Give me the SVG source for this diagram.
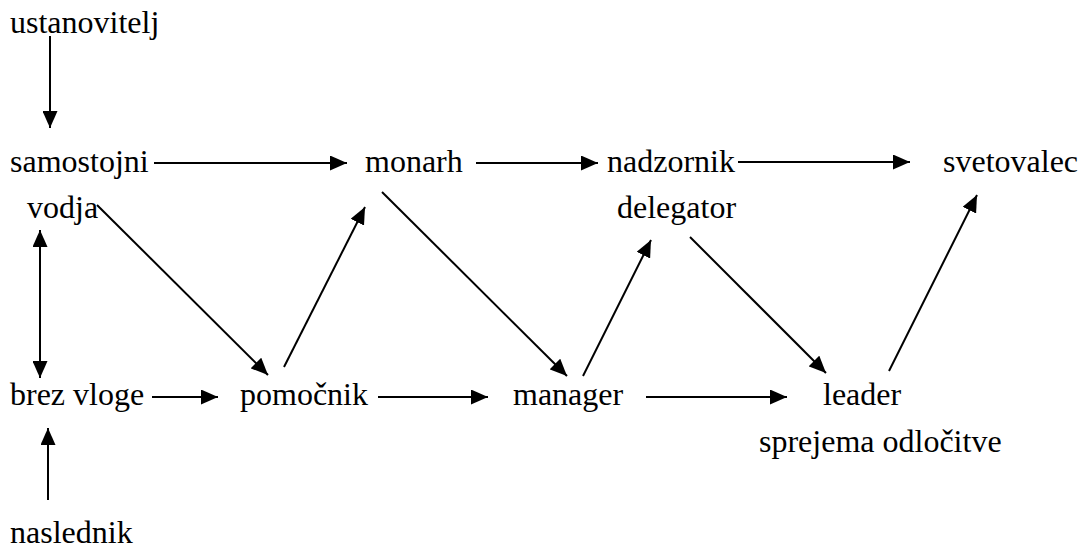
<svg xmlns="http://www.w3.org/2000/svg" width="1086" height="551" viewBox="0 0 1086 551">
<style>
text{font-family:'Liberation Serif',Tinos,'Times New Roman',serif;font-size:32px;fill:#000}
.c line{stroke:#000;stroke-width:2;fill:none;marker-end:url(#ah)}
</style>
<defs>
<marker id="ah" markerUnits="userSpaceOnUse" markerWidth="17" markerHeight="15" refX="17" refY="7.5" orient="auto-start-reverse"><path d="M0,0 L17,7.5 L0,15 z" fill="#000"/></marker>
</defs>
<rect width="1086" height="551" fill="#fff"/>
<g font-family="Liberation Serif, serif">
<g id="n-ustanovitelj"><text x="10" y="33">ustanovitelj</text></g>
<g id="n-samostojni"><text x="10" y="172">samostojni</text><text x="27" y="218">vodja</text></g>
<g id="n-monarh"><text x="365" y="172">monarh</text></g>
<g id="n-nadzornik"><text x="607" y="172">nadzornik</text><text x="617" y="218">delegator</text></g>
<g id="n-svetovalec"><text x="943" y="172">svetovalec</text></g>
<g id="n-brez"><text x="10" y="405">brez vloge</text></g>
<g id="n-pomocnik"><text x="240" y="405">pomočnik</text></g>
<g id="n-manager"><text x="513" y="405">manager</text></g>
<g id="n-leader"><text x="823" y="405">leader</text><text x="759" y="452">sprejema odločitve</text></g>
<g id="n-naslednik"><text x="10" y="543">naslednik</text></g>
</g>
<g class="c" id="connectors">
<line x1="50" y1="36" x2="50" y2="128"/>
<line x1="154" y1="163" x2="347" y2="163"/>
<line x1="476" y1="163" x2="598" y2="163"/>
<line x1="738" y1="162" x2="910" y2="162"/>
<line x1="40" y1="230" x2="40" y2="378" style="marker-start:url(#ah)"/>
<line x1="97" y1="205" x2="268" y2="375"/>
<line x1="284" y1="367" x2="365" y2="207"/>
<line x1="152" y1="397" x2="218" y2="397"/>
<line x1="378" y1="397" x2="488" y2="397"/>
<line x1="382" y1="192" x2="567" y2="376"/>
<line x1="583" y1="376" x2="651" y2="240"/>
<line x1="646" y1="397" x2="787" y2="397"/>
<line x1="690" y1="237" x2="826" y2="373"/>
<line x1="889" y1="371" x2="977" y2="195"/>
<line x1="48" y1="500" x2="48" y2="428"/>
</g>
</svg>
